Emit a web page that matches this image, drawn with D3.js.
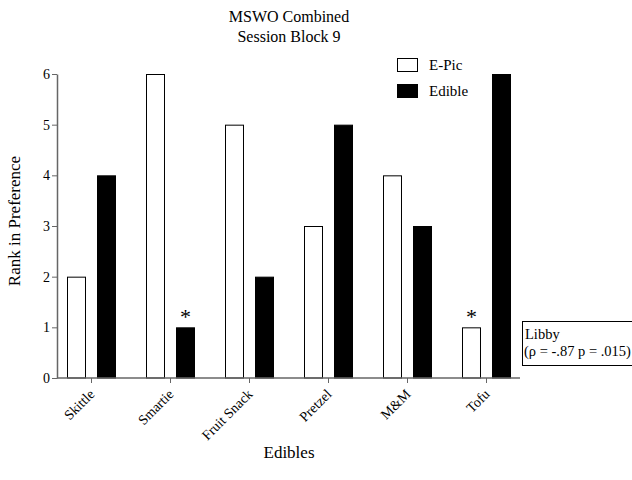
<!DOCTYPE html>
<html>
<head>
<meta charset="utf-8">
<script src="https://cdn.jsdelivr.net/npm/d3@7"></script>
<style>
  body { margin: 0; background: #fff; }
  text { font-family: "Liberation Serif", "Times New Roman", serif; fill: #000; }
</style>
</head>
<body>
<script>
// MSWO combined chart, session block 9

const items = ["Skittle", "Smartie", "Fruit Snack", "Pretzel", "M&M", "Tofu"];
const series = ["E-Pic", "Edible"];
const ePic = [2, 6, 5, 3, 4, 1];
const edible = [4, 1, 2, 5, 3, 6];
const yTicks = [0, 1, 2, 3, 4, 5, 6];
// asterisks: [item, series]
const stars = [["Smartie", "Edible"], ["Tofu", "E-Pic"]];

const width = 632, height = 480;
const margin = {top: 74, right: 106, bottom: 102, left: 52};

const svg = d3.select("body").append("svg")
  .attr("width", width)
  .attr("height", height);

const x0 = d3.scaleBand()
  .domain(items)
  .range([margin.left, margin.left + 474])
  .padding(0);

const x1 = d3.scaleBand()
  .domain(series)
  .range([15, 64])
  .paddingInner(0.367)
  .paddingOuter(0);

const y = d3.scaleLinear()
  .domain([0, 6])
  .range([height - margin.bottom, margin.top]);

const fills = {"E-Pic": "#fff", "Edible": "#000"};

let rows = items.map((d, i) => ({item: d, "E-Pic": ePic[i], "Edible": edible[i]}));

// bars
const groups = svg.selectAll(".grp")
  .data(rows)
  .join("g")
  .attr("class", "grp")
  .attr("transform", d => "translate(" + x0(d.item) + ",0)");

groups.selectAll("rect")
  .data(d => series.map(s => ({s: s, v: d[s]})))
  .join("rect")
  .attr("x", d => x1(d.s) + 0.5)
  .attr("y", d => y(d.v) + 0.5)
  .attr("width", x1.bandwidth() - 1)
  .attr("height", d => y(0) - y(d.v) - 0.5)
  .style("fill", d => fills[d.s])
  .style("stroke", "#000")
  .style("stroke-width", 1);

// y axis
const yAxis = svg.append("g")
  .attr("transform", "translate(57,0)")
  .call(d3.axisLeft(y).tickValues(yTicks).tickFormat(d3.format("d")).tickSize(5).tickSizeOuter(0));
yAxis.select(".domain").attr("stroke", "#666").attr("stroke-width", 1.5);
yAxis.selectAll(".tick line").attr("stroke", "#666");
yAxis.selectAll(".tick text")
  .attr("x", -7)
  .style("font-size", "14px")
  .style("font-family", "Liberation Serif");

// x axis
const xAxis = svg.append("g")
  .attr("transform", "translate(0," + y(0) + ")")
  .call(d3.axisBottom(x0).tickSize(5).tickSizeOuter(0));
xAxis.select(".domain").remove();
xAxis.append("line")
  .attr("x1", 57).attr("x2", 520)
  .attr("y1", 0).attr("y2", 0)
  .attr("stroke", "#666").attr("stroke-width", 1.5);
xAxis.selectAll(".tick line").attr("stroke", "#666");
xAxis.selectAll(".tick text")
  .attr("y", 0)
  .attr("dy", 0)
  .attr("text-anchor", "end")
  .attr("transform", "translate(4,17) rotate(-45)")
  .style("font-size", "14px")
  .style("font-family", "Liberation Serif");

// asterisks
svg.selectAll(".star")
  .data(stars)
  .join("text")
  .attr("class", "star")
  .attr("x", d => x0(d[0]) + x1(d[1]) + x1.bandwidth() / 2)
  .attr("y", d => y(rows.find(r => r.item === d[0])[d[1]]) - 3)
  .attr("text-anchor", "middle")
  .style("font-size", "22px")
  .text("*");

// title
svg.append("text")
  .attr("x", 289).attr("y", 22)
  .attr("text-anchor", "middle")
  .style("font-size", "16px")
  .text("MSWO Combined");
svg.append("text")
  .attr("x", 289).attr("y", 42)
  .attr("text-anchor", "middle")
  .style("font-size", "16px")
  .text("Session Block 9");

// axis titles
svg.append("text")
  .attr("transform", "translate(20,221) rotate(-90)")
  .attr("text-anchor", "middle")
  .style("font-size", "17px")
  .text("Rank in Preference");
svg.append("text")
  .attr("x", 289).attr("y", 458)
  .attr("text-anchor", "middle")
  .style("font-size", "17px")
  .text("Edibles");

// legend
const legend = svg.selectAll(".leg")
  .data(series)
  .join("g")
  .attr("class", "leg")
  .attr("transform", (d, i) => "translate(397," + (58 + i * 26) + ")");
legend.append("rect")
  .attr("x", 0.5).attr("y", 0.5)
  .attr("width", 20).attr("height", 13)
  .style("fill", d => fills[d])
  .style("stroke", "#000");
legend.append("text")
  .attr("x", 32).attr("y", 12)
  .style("font-size", "15px")
  .text(d => d);

// note box
svg.append("rect")
  .attr("x", 522.5).attr("y", 321.5)
  .attr("width", 112).attr("height", 44)
  .style("fill", "#fff")
  .style("stroke", "#000");
svg.append("text")
  .attr("x", 525).attr("y", 339)
  .style("font-size", "14.5px")
  .text("Libby");
svg.append("text")
  .attr("x", 524).attr("y", 356)
  .style("font-size", "14.5px")
  .text("(ρ = -.87 p = .015)");
</script>
</body>
</html>
